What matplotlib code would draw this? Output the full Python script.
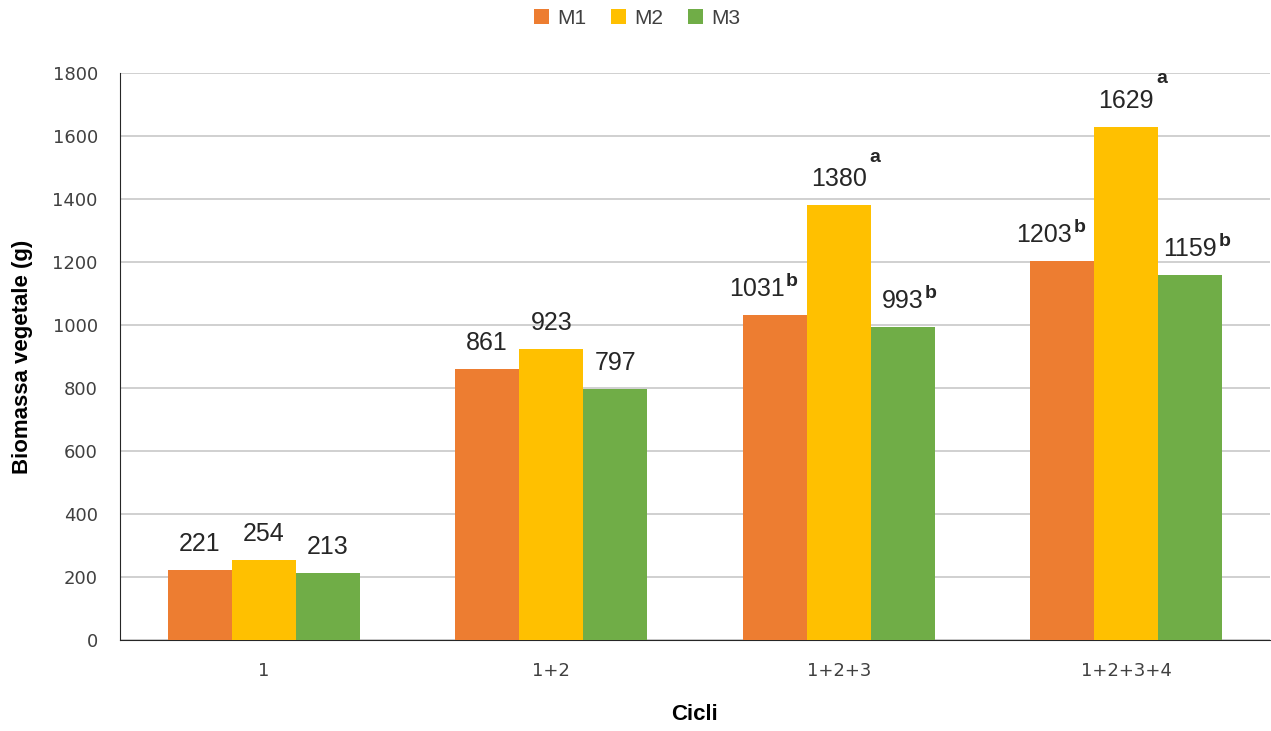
import matplotlib.pyplot as plt
import numpy as np

cycles = ["1", "1+2", "1+2+3", "1+2+3+4"]
series_names = ["M1", "M2", "M3"]
m1 = [221, 861, 1031, 1203]
m2 = [254, 923, 1380, 1629]
m3 = [213, 797, 993, 1159]
letters_m1 = ["", "", "b", "b"]
letters_m2 = ["", "", "a", "a"]
letters_m3 = ["", "", "b", "b"]
colors = ["#ED7D31", "#FFC000", "#70AD47"]

plt.rcParams["font.family"] = ["Liberation Sans", "DejaVu Sans"]

fig = plt.figure(figsize=(12.71, 7.31), dpi=100)
ax = fig.add_axes([120 / 1271, 1 - 640 / 731, 1150 / 1271, 567 / 731])

x = np.arange(len(cycles))
width = 0.223
offsets = [-width, 0, width]
values = [m1, m2, m3]
letters = [letters_m1, letters_m2, letters_m3]

for i, (name, vals, col) in enumerate(zip(series_names, values, colors)):
    bars = ax.bar(x + offsets[i], vals, width, color=col, label=name, zorder=3)
    for j, (b, v) in enumerate(zip(bars, vals)):
        let = letters[i][j]
        cx = b.get_x() + b.get_width() / 2
        shift = -13 if (let and i == 0) else 0
        txt = ax.annotate(str(v), xy=(cx, v), xytext=(shift, 10), textcoords="offset points",
                          ha="center", va="bottom", fontsize=18, color="#262626", zorder=4)
        if not let:
            continue
        if i == 1:
            # letter sits above and right of the M2 value
            ax.annotate(let, xy=(1, 1), xycoords=txt, xytext=(2, 4), textcoords="offset points",
                        ha="left", va="baseline", fontsize=14, fontweight="bold", color="#262626")
        else:
            # superscript right after the value
            ax.annotate(let, xy=(1, 1), xycoords=txt, xytext=(1, 3), textcoords="offset points",
                        ha="left", va="top", fontsize=14, fontweight="bold", color="#262626")

ax.set_xlim(-0.5, len(cycles) - 0.5)
ax.set_ylim(0, 1800)
ax.set_yticks(np.arange(0, 1801, 200))
ax.set_xticks(x)
ax.set_xticklabels(cycles)
ax.tick_params(axis="both", length=0, colors="#404040")
for lab in ax.get_xticklabels() + ax.get_yticklabels():
    lab.set_family("DejaVu Sans")
    lab.set_fontsize(13)
ax.tick_params(axis="x", pad=16)
ax.tick_params(axis="y", pad=16)
ax.yaxis.grid(True, color="#C8C8C8", linewidth=1.2, zorder=0)
ax.set_axisbelow(True)
for s in ["top", "right"]:
    ax.spines[s].set_visible(False)
ax.spines["left"].set_color("#262626")
ax.spines["bottom"].set_color("#262626")

ax.set_ylabel("Biomassa vegetale (g)", fontsize=16, fontweight="bold", va="center")
ax.set_xlabel("Cicli", fontsize=16, fontweight="bold", va="center")
ax.yaxis.set_label_coords((22 - 120) / 1150, 0.5)
ax.xaxis.set_label_coords(0.5, (640 - 714) / 567)

fig.legend(loc="center", bbox_to_anchor=(637 / 1271, 1 - 18 / 731), ncol=3, frameon=False,
           fontsize=15, handlelength=0.7, handleheight=0.7, handletextpad=0.4,
           columnspacing=1.2, labelcolor="#404040")

fig.savefig("out.png", dpi=100)
